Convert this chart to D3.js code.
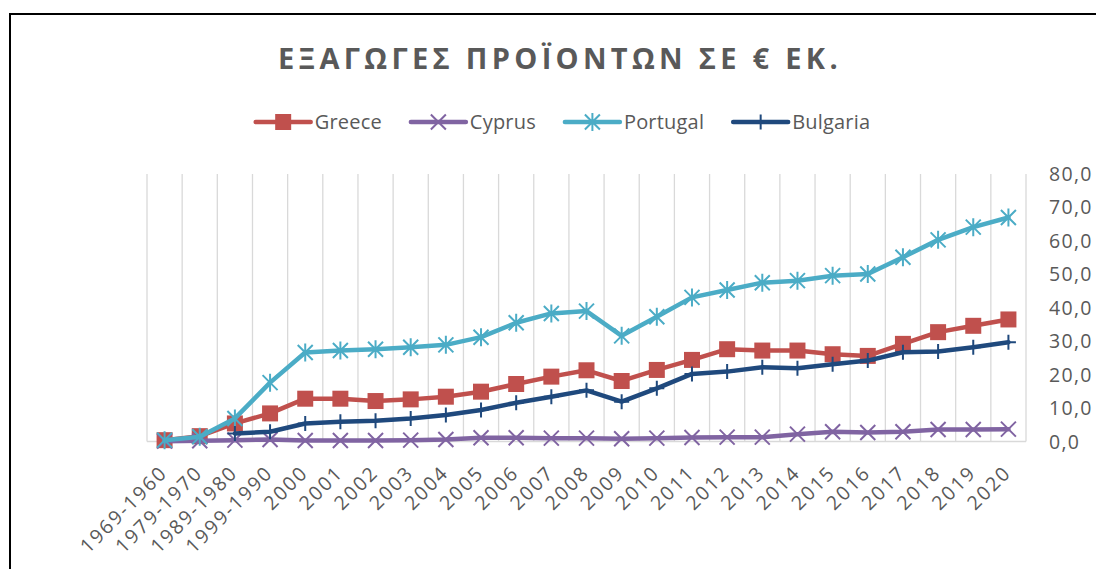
<!DOCTYPE html>
<html lang="el">
<head>
    <meta charset="UTF-8">
    <title>Εξαγωγές προϊόντων</title>
    <script src="https://cdnjs.cloudflare.com/ajax/libs/d3/7.8.5/d3.min.js"></script>
    <style>
        body { margin: 0; background: #fff; }
        text { font-family: "Open Sans", "Noto Sans", sans-serif; fill: #595959; }
    </style>
</head>
<body>
    <div id="chart"></div>

    <script>
        // κατηγορίες (άξονας x)
        const categories = ["1969-1960", "1979-1970", "1989-1980", "1999-1990",
            "2000", "2001", "2002", "2003", "2004", "2005", "2006", "2007", "2008",
            "2009", "2010", "2011", "2012", "2013", "2014", "2015", "2016", "2017",
            "2018", "2019", "2020"];

        // τιμές ανά χώρα
        const greece   = [0.4, 1.6, 5.4, 8.4, 12.8, 12.8, 12.1, 12.6, 13.4, 14.9, 17.2, 19.4, 21.3,
                          18.1, 21.4, 24.4, 27.6, 27.2, 27.2, 26.1, 25.6, 29.2, 32.7, 34.6, 36.5];
        const cyprus   = [0.1, 0.2, 0.4, 0.6, 0.3, 0.3, 0.3, 0.4, 0.6, 1.1, 1.1, 1.0, 1.0,
                          0.8, 1.0, 1.2, 1.3, 1.3, 2.2, 2.9, 2.7, 2.9, 3.6, 3.6, 3.7];
        const portugal = [0.4, 1.4, 6.9, 17.6, 26.6, 27.2, 27.6, 28.2, 28.9, 31.2, 35.5, 38.3, 39.0,
                          31.6, 37.3, 43.1, 45.3, 47.5, 48.1, 49.6, 50.1, 55.1, 60.3, 64.1, 67.0];
        const bulgaria = [null, null, 2.4, 2.9, 5.4, 5.9, 6.2, 6.9, 7.9, 9.4, 11.6, 13.4, 15.3,
                          11.9, 15.9, 20.2, 20.9, 22.2, 21.9, 23.1, 24.2, 26.7, 26.9, 28.2, 29.7];

        const yTicks = [0, 10, 20, 30, 40, 50, 60, 70, 80];

        const series = [
            { name: "Greece",   values: greece,   color: "#C0504D", marker: "square" },
            { name: "Cyprus",   values: cyprus,   color: "#8064A2", marker: "x" },
            { name: "Portugal", values: portugal, color: "#4BACC6", marker: "star" },
            { name: "Bulgaria", values: bulgaria, color: "#1F497D", marker: "plus" }
        ];

        const width = 1096, height = 569;
        const svg = d3.select("#chart").append("svg")
            .attr("width", width)
            .attr("height", height);

        // πλαίσιο
        svg.append("rect")
            .attr("x", 10).attr("y", 14)
            .attr("width", 1200).attr("height", 700)
            .attr("fill", "none")
            .attr("stroke", "#000")
            .attr("stroke-width", 2);

        const x = d3.scaleBand().domain(categories).range([147, 1026]).padding(0);
        const y = d3.scaleLinear().domain([0, 80]).range([441.5, 174]);

        // κάθετες γραμμές πλέγματος
        const edges = categories.map(c => x(c)).concat([x.range()[1]]);
        svg.append("g").selectAll("line")
            .data(edges)
            .enter().append("line")
            .attr("x1", d => d).attr("x2", d => d)
            .attr("y1", y(80)).attr("y2", y(0))
            .attr("stroke", "#d9d9d9")
            .attr("stroke-width", 1.3);

        svg.append("line")
            .attr("x1", x.range()[0]).attr("x2", x.range()[1])
            .attr("y1", y(0)).attr("y2", y(0))
            .attr("stroke", "#d9d9d9")
            .attr("stroke-width", 1.5);

        // άξονας y δεξιά
        svg.append("g").selectAll("text")
            .data(yTicks)
            .enter().append("text")
            .attr("x", 1049)
            .attr("y", d => y(d))
            .attr("dy", "0.36em")
            .style("font-size", "19.5px")
            .style("letter-spacing", "1.3px")
            .text(d => d.toFixed(1).replace(".", ","));

        // ετικέτες x
        const cx = d => x(d) + x.bandwidth() / 2;
        svg.append("g").selectAll("text")
            .data(categories)
            .enter().append("text")
            .attr("transform", d => `translate(${cx(d) + 4},474) rotate(-45)`)
            .attr("text-anchor", "end")
            .style("font-size", "19.5px")
            .style("letter-spacing", "2px")
            .text(d => d);

        // σύμβολα
        function markerPath(type, s) {
            const p = d3.path();
            if (type === "square") {
                p.rect(-s, -s, 2 * s, 2 * s);
            } else if (type === "x") {
                p.moveTo(-s, -s); p.lineTo(s, s);
                p.moveTo(-s, s); p.lineTo(s, -s);
            } else if (type === "star") {
                p.moveTo(-s, -s); p.lineTo(s, s);
                p.moveTo(-s, s); p.lineTo(s, -s);
                p.moveTo(0, -s * 1.2); p.lineTo(0, s * 1.2);
            } else if (type === "plus") {
                p.moveTo(0, -s); p.lineTo(0, s);
                p.moveTo(-s, 0); p.lineTo(s, 0);
            }
            return p.toString();
        }

        function drawMarker(g, type, color) {
            if (type === "square") {
                g.append("path").attr("d", markerPath(type, 8)).attr("fill", color);
            } else {
                g.append("path").attr("d", markerPath(type, 7.5))
                    .attr("fill", "none").attr("stroke", color).attr("stroke-width", 2);
            }
        }

        const line = d3.line()
            .defined(d => d.v !== null)
            .x(d => cx(d.c))
            .y(d => y(d.v));

        series.forEach(s => {
            const pts = categories.map((c, i) => ({ c: c, v: s.values[i] }));
            const g = svg.append("g");
            g.append("path")
                .datum(pts)
                .attr("d", line)
                .attr("fill", "none")
                .attr("stroke", s.color)
                .attr("stroke-width", 4.5)
                .attr("stroke-linejoin", "round")
                .attr("stroke-linecap", "round");
            pts.filter(d => d.v !== null).forEach(d => {
                const m = g.append("g").attr("transform", `translate(${cx(d.c)},${y(d.v)})`);
                drawMarker(m, s.marker, s.color);
            });
        });

        // τίτλος
        svg.append("text")
            .attr("x", 560)
            .attr("y", 69)
            .attr("text-anchor", "middle")
            .style("font-size", "29px")
            .style("font-weight", "bold")
            .style("letter-spacing", "4.3px")
            .text("ΕΞΑΓΩΓΕΣ ΠΡΟΪΟΝΤΩΝ ΣΕ € ΕΚ.");

        // υπόμνημα
        const legend = svg.append("g");
        let lx = 0;
        series.forEach(s => {
            const item = legend.append("g").attr("transform", `translate(${lx},0)`);
            item.append("line")
                .attr("x1", 0).attr("x2", 55)
                .attr("y1", 0).attr("y2", 0)
                .attr("stroke", s.color)
                .attr("stroke-width", 4.5)
                .attr("stroke-linecap", "round");
            drawMarker(item.append("g").attr("transform", "translate(27.5,0)"), s.marker, s.color);
            const t = item.append("text")
                .attr("x", 59)
                .attr("dy", "0.36em")
                .style("font-size", "20px")
                .style("letter-spacing", "0.2px")
                .text(s.name);
            lx += 59 + t.node().getComputedTextLength() + 29;
        });
        const legendW = lx - 29;
        legend.attr("transform", `translate(${563 - legendW / 2},122)`);
    </script>
</body>
</html>
